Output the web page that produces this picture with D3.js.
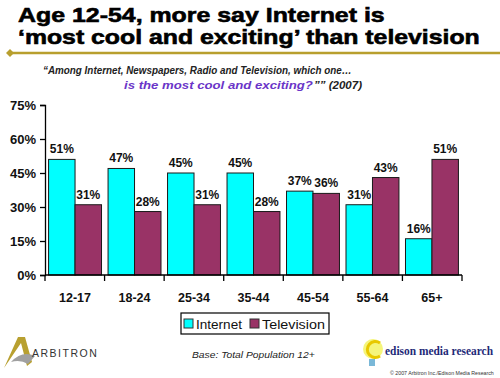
<!DOCTYPE html>
<html><head><meta charset="utf-8">
<script src="https://cdn.jsdelivr.net/npm/d3@7"></script>
<style>body{margin:0;background:#fff}svg{display:block}</style>
</head><body>
<script>
const categories = ["12-17","18-24","25-34","35-44","45-54","55-64","65+"];
const internet = [51,47,45,45,37,31,16];
const television = [31,28,31,28,36,43,51];
const seriesNames = ["Internet","Television"];
const yTicks = [0,15,30,45,60,75];
const titleLines = ["Age 12-54, more say Internet is","‘most cool and exciting’ than television"];

const W=500,H=378;
const svg=d3.select("body").append("svg").attr("width",W).attr("height",H);
const colors={Internet:"#00FFFF",Television:"#993366"};
const SANS="Liberation Sans, Arial, sans-serif";

// fit a text horizontally to a width by scaling
function fitText(sel, x0, y0, width){
  const len = sel.node().getComputedTextLength();
  sel.attr("x",0).attr("y",0).attr("transform",`translate(${x0},${y0}) scale(${width/len},1)`);
}

// title
const titleLen=[367,462];
svg.selectAll("text.title").data(titleLines).join("text").attr("class","title")
 .attr("font-family",SANS).attr("font-weight","bold")
 .attr("font-size",20.5).attr("fill","#000").attr("stroke","#000").attr("stroke-width",0.6)
 .text(d=>d)
 .each(function(d,i){ fitText(d3.select(this),18,22+i*21.5,titleLen[i]); });
// gold rule
svg.append("line").attr("x1",10).attr("x2",500).attr("y1",53).attr("y2",53)
 .attr("stroke","#B89F2E").attr("stroke-width",2.5);
svg.append("path").attr("d","M6,53L10,49L14,53L10,57Z").attr("fill","#B89F2E");

// subtitle
const sub=svg.append("g").attr("font-family",SANS)
 .attr("font-style","italic").attr("font-weight","bold").attr("font-size",11.5);
fitText(sub.append("text").attr("fill","#222")
 .text("“Among Internet, Newspapers, Radio and Television, which one…"),43,74,309);
fitText(sub.append("text").attr("fill","#6A35C8").text("is the most cool and exciting?"),124,89,189);
fitText(sub.append("text").attr("fill","#222").text("”” (2007)"),314,89,48);

// plot
const x=d3.scaleBand().domain(categories).range([45,462]).paddingInner(0.11).paddingOuter(0.06);
const y=d3.scaleLinear().domain([0,75]).range([275,105]);
const xs=d3.scaleBand().domain(seriesNames).range([0,x.bandwidth()]);

const rows=categories.map((c,i)=>({cat:c,vals:[{s:"Internet",v:internet[i]},{s:"Television",v:television[i]}]}));
const g=svg.append("g");
const grp=g.selectAll("g.cat").data(rows).join("g").attr("transform",d=>`translate(${x(d.cat)},0)`);
grp.selectAll("rect").data(d=>d.vals).join("rect")
 .attr("x",d=>xs(d.s)).attr("width",xs.bandwidth()).attr("y",d=>y(d.v)).attr("height",d=>y(0)-y(d.v))
 .attr("fill",d=>colors[d.s]).attr("stroke","#1a1a1a").attr("stroke-width",1);
grp.selectAll("text").data(d=>d.vals).join("text")
 .attr("x",d=>xs(d.s)+xs.bandwidth()/2).attr("y",d=>y(d.v)-6)
 .attr("text-anchor","middle").attr("font-family",SANS)
 .attr("font-weight","bold").attr("font-size",12).attr("fill","#111").text(d=>d.v+"%");

// y axis
const ya=svg.append("g").attr("transform","translate(45,0)")
 .call(d3.axisLeft(y).tickValues(yTicks).tickFormat(d=>d+"%").tickSize(5).tickPadding(4));
ya.select(".domain").attr("stroke","#000").attr("stroke-width",1.3);
ya.selectAll(".tick line").attr("stroke","#000").attr("stroke-width",1.3);
ya.selectAll("text").attr("font-family",SANS).attr("font-weight","bold").attr("font-size",13).attr("fill","#111");

// x axis
const xa=svg.append("g").attr("transform","translate(0,275)")
 .call(d3.axisBottom(x).tickSize(0).tickPadding(18));
xa.select(".domain").attr("stroke","#000").attr("stroke-width",1.3).attr("d","M45,0H462");
xa.selectAll("text").attr("font-family",SANS).attr("font-weight","bold").attr("font-size",12.5).attr("fill","#111");
const step=(462-45)/categories.length;
svg.append("g").selectAll("line").data(d3.range(categories.length+1)).join("line")
 .attr("x1",i=>45+i*step).attr("x2",i=>45+i*step).attr("y1",275).attr("y2",281)
 .attr("stroke","#000").attr("stroke-width",1.3);

// legend
const lg=svg.append("g");
lg.append("rect").attr("x",181).attr("y",313).attr("width",148).attr("height",21).attr("fill","#fff").attr("stroke","#000").attr("stroke-width",1.2);
const legX=[184,250], legLen=[46,63];
const li=lg.selectAll("g").data(seriesNames).join("g").attr("transform",(d,i)=>`translate(${legX[i]},318)`);
li.append("rect").attr("width",9).attr("height",9).attr("y",1).attr("fill",d=>colors[d]).attr("stroke","#333");
li.append("text").attr("font-family",SANS).attr("font-size",13.5).attr("fill","#111").text(d=>d)
 .each(function(d,i){ fitText(d3.select(this),12,10.5,legLen[i]); });

// footer
const ab=svg.append("g");
ab.append("path").attr("d","M4,368L18,337L25,337L32,362L27,366L21,343Z").attr("fill","#B8A030");
ab.append("path").attr("d","M11,362Q22,350 35,356L28,364Q20,359 11,362Z").attr("fill","#A0A0A0");
ab.append("text").attr("x",32).attr("y",357).attr("font-family",SANS).attr("font-size",10.5).attr("letter-spacing",1.5).attr("fill","#333").text("ARBITRON");
fitText(svg.append("text").attr("font-family",SANS).attr("font-style","italic").attr("font-size",9)
 .attr("fill","#222").text("Base:  Total Population 12+"),192,358,123);
const ed=svg.append("g");
ed.append("circle").attr("cx",373).attr("cy",349).attr("r",10).attr("fill","#F2F25A").attr("opacity",0.8);
ed.append("path").attr("d","M380,343A8,8 0 1 0 380,356").attr("fill","none").attr("stroke","#E8C800").attr("stroke-width",3);
ed.append("rect").attr("x",369).attr("y",359).attr("width",6).attr("height",7).attr("fill","#7AB8D8");
fitText(ed.append("text").attr("font-family","Liberation Serif, Times New Roman, serif").attr("font-weight","bold").attr("font-size",13.5)
 .attr("fill","#1E2A78").text("edison media research"),385,355,108);
fitText(svg.append("text").attr("font-family",SANS).attr("font-size",5)
 .attr("fill","#333").text("© 2007 Arbitron Inc./Edison Media Research"),390,375,104);
</script>
</body></html>
